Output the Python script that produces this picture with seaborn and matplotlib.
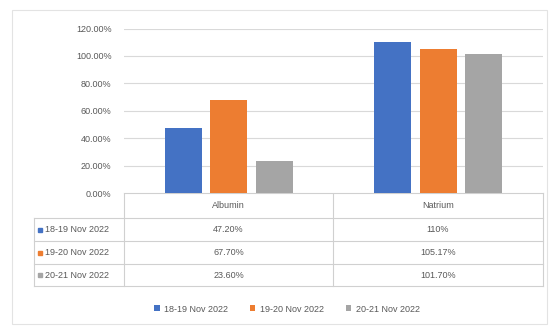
import numpy as np
import pandas as pd
import matplotlib.pyplot as plt
import seaborn as sns
from matplotlib.patches import Rectangle

# data
tests = ['Albumin', 'Natrium']
periods = ['18-19 Nov 2022', '19-20 Nov 2022', '20-21 Nov 2022']
albumin = [0.472, 0.677, 0.236]
natrium = [1.10, 1.0517, 1.017]
albumin_txt = ['47.20%', '67.70%', '23.60%']
natrium_txt = ['110%', '105.17%', '101.70%']
colors = ['#4472C4', '#ED7D31', '#A5A5A5']
yticks = [0, 0.2, 0.4, 0.6, 0.8, 1.0, 1.2]

plt.rcParams['font.family'] = ['Liberation Sans', 'DejaVu Sans']
txt_col = '#595959'
grid_col = '#D9D9D9'

# long format, test-major
rows = []
for t, vals in zip(tests, [albumin, natrium]):
    for p, v in zip(periods, vals):
        rows.append((t, p, v))
df = pd.DataFrame(rows, columns=['Test', 'Period', 'Value'])

W, H = 555, 327
fig = plt.figure(figsize=(W / 100, H / 100), dpi=100)

# overlay in pixel coords for frame + data table
ov = fig.add_axes([0, 0, 1, 1])
ov.set_xlim(0, W)
ov.set_ylim(H, 0)
ov.axis('off')
ov.add_patch(Rectangle((12, 10), 535, 314, fill=False, ec='#E3E3E3', lw=0.8))

# plot area
left, right, top, bottom = 124, 543, 28.5, 193
ax = fig.add_axes([left / W, 1 - bottom / H, (right - left) / W, (bottom - top) / H])
sns.barplot(data=df, x='Test', y='Value', hue='Period', palette=colors,
            width=0.65, gap=0.19, ax=ax, saturation=1)
ax.set_ylim(0, 1.2)
ax.set_xlim(-0.5, 1.5)
ax.set_yticks(yticks)
ax.set_yticklabels([f'{t * 100:.2f}%' for t in yticks], color=txt_col, fontsize=6.5)
ax.set_xticks([])
ax.set_xlabel('')
ax.set_ylabel('')
ax.tick_params(axis='y', length=0, pad=9)
for s in ax.spines.values():
    s.set_visible(False)
ax.grid(axis='y', color=grid_col, lw=0.8)
ax.set_axisbelow(True)
handles, labels = ax.get_legend_handles_labels()
ax.get_legend().remove()

# data table
ys = [193, 218, 241, 264, 286]
xs = [34, 124, 333, 543]
lc = '#D0D0D0'
ov.plot([124, 543], [193, 193], color=lc, lw=0.8)
for y in ys[1:]:
    ov.plot([34, 543], [y, y], color=lc, lw=0.8)
ov.plot([34, 34], [218, 286], color=lc, lw=0.8)
for x in xs[1:]:
    ov.plot([x, x], [193, 286], color=lc, lw=0.8)

col_centers = [(xs[1] + xs[2]) / 2, (xs[2] + xs[3]) / 2]
for cx, t in zip(col_centers, tests):
    ov.text(cx, (ys[0] + ys[1]) / 2, t, ha='center', va='center', fontsize=6.5, color=txt_col)
for i, p in enumerate(periods):
    cy = (ys[i + 1] + ys[i + 2]) / 2
    ov.plot(40, cy, marker='s', ms=3.2, color=colors[i], ls='none')
    ov.text(45, cy, p, ha='left', va='center', fontsize=6.5, color=txt_col)
    for cx, vals in zip(col_centers, [albumin_txt, natrium_txt]):
        ov.text(cx, cy, vals[i], ha='center', va='center', fontsize=6.5, color=txt_col)

fig.legend(handles, labels, loc='center', bbox_to_anchor=(287 / W, 1 - 309 / H), ncol=3,
           frameon=False, fontsize=6.5, labelcolor=txt_col, handlelength=0.6,
           handleheight=0.6, handletextpad=0.5, columnspacing=2.4)

fig.savefig('out.png', dpi=100)
